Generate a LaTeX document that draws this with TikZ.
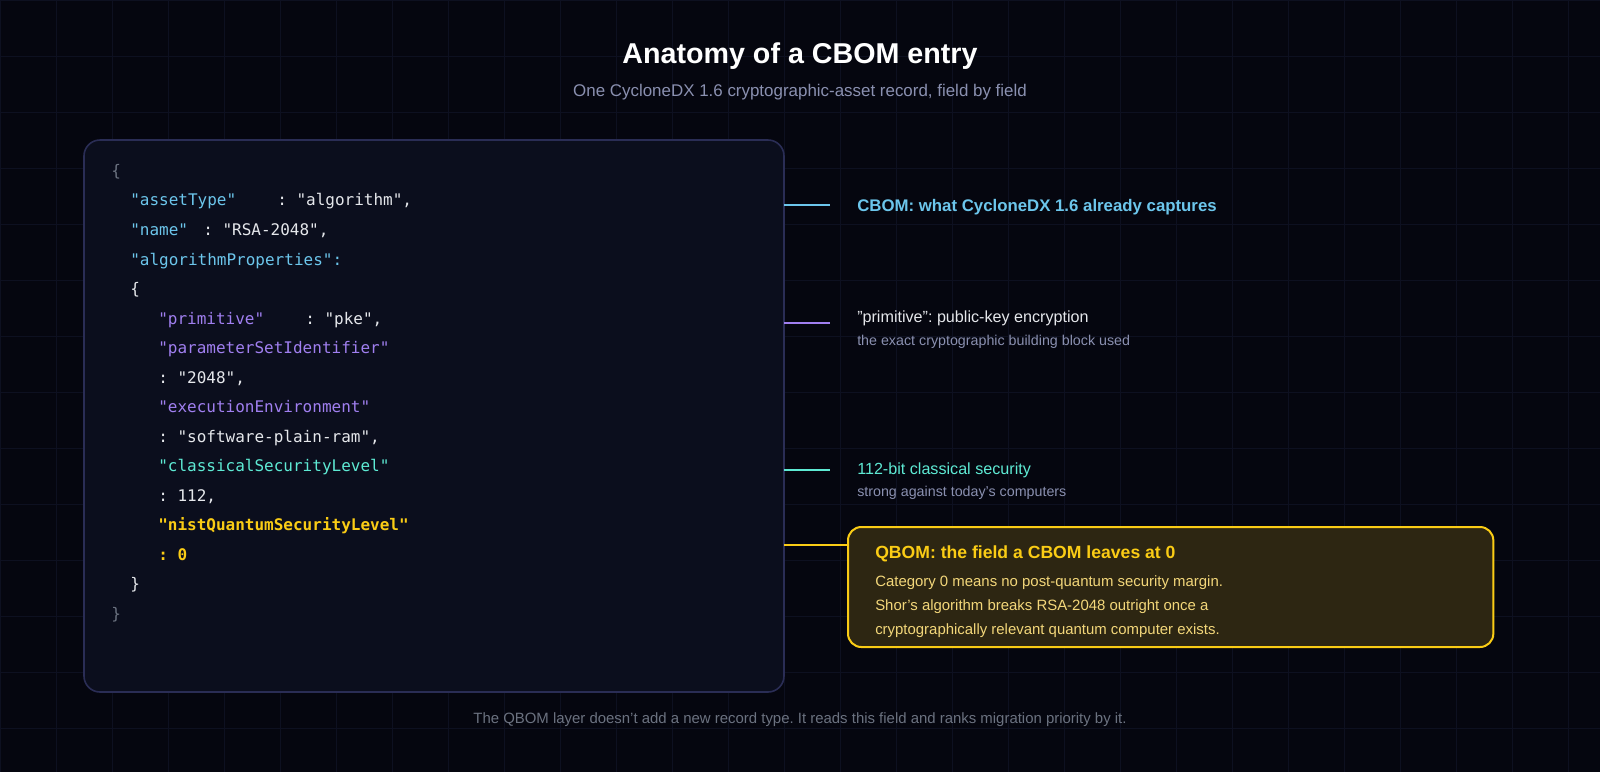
\documentclass[tikz,border=0pt]{standalone}
\usepackage{fontspec}
\setmainfont{Liberation Sans}
\newfontfamily\codefont{DejaVu Sans Mono}
\begin{document}
\frenchspacing
\begin{tikzpicture}[x=0.75pt,y=-0.75pt,
  code/.style={anchor=base west,inner sep=0,font=\codefont\fontsize{12}{14}\selectfont},
  lbl/.style={anchor=base west,inner sep=0},
  conn/.style={line width=1.4pt}]
\definecolor{bg}{HTML}{05060F}
\definecolor{gridc}{HTML}{0D1020}
\definecolor{boxbg}{HTML}{0B0E1D}
\definecolor{boxbd}{HTML}{2A2D55}
\definecolor{kcyan}{HTML}{6CC6EC}
\definecolor{kpur}{HTML}{A07FF0}
\definecolor{kgreen}{HTML}{5EEAD4}
\definecolor{kyel}{HTML}{FACC15}
\definecolor{val}{HTML}{E5E7EB}
\definecolor{brc}{HTML}{6B7280}
\definecolor{sub}{HTML}{8A90B0}
\definecolor{qbg}{HTML}{2D2612}
\definecolor{qtxt}{HTML}{F3D77A}
\def\q{\symbol{34}}
\def\ap{\symbol{39}}
\useasboundingbox (0,0) rectangle (1600,772);
\fill[bg] (0,0) rectangle (1600,772);
\foreach \x in {0,56,...,1600} \draw[gridc,line width=0.6pt] (\x,0) -- (\x,772);
\foreach \y in {0,56,...,772} \draw[gridc,line width=0.6pt] (0,\y) -- (1600,\y);
\node[font=\bfseries\fontsize{21.5}{26}\selectfont,text=white] (title) at (800,56) {Anatomy of a CBOM entry};
\node[font=\fontsize{12.7}{15}\selectfont,text=sub] (subtitle) at (800,92) {One CycloneDX 1.6 cryptographic-asset record, field by field};
\draw[boxbd,fill=boxbg,line width=1.2pt,rounded corners=12pt] (84,140) rectangle (784,692);
\node[code,text=brc] (l1) at (111,176) {\{};
\node[code,text=kcyan] (l2) at (130,205) {"assetType"};
\node[code,text=val] (v2) at (277,205) {: "algorithm",};
\node[code,text=kcyan] (l3) at (130,235) {"name"};
\node[code,text=val] (v3) at (203,235) {: "RSA-2048",};
\node[code,text=kcyan] (l4) at (130,265) {"algorithmProperties":};
\node[code,text=val] (l5) at (130,294) {\{};
\node[code,text=kpur] (l6) at (158,324) {"primitive"};
\node[code,text=val] (v6) at (305,324) {: "pke",};
\node[code,text=kpur] (l7) at (158,353) {"parameterSetIdentifier"};
\node[code,text=val] (l8) at (158,383) {: "2048",};
\node[code,text=kpur] (l9) at (158,412) {"executionEnvironment"};
\node[code,text=val] (l10) at (158,442) {: "software-plain-ram",};
\node[code,text=kgreen] (l11) at (158,471) {"classicalSecurityLevel"};
\node[code,text=val] (l12) at (158,501) {: 112,};
\node[code,text=kyel,font=\codefont\bfseries\fontsize{12}{14}\selectfont] (l13) at (158,530) {"nistQuantumSecurityLevel"};
\node[code,text=kyel,font=\codefont\bfseries\fontsize{12}{14}\selectfont] (l14) at (158,560) {: 0};
\node[code,text=val] (l15) at (130,589) {\}};
\node[code,text=brc] (l16) at (111,619) {\}};
% connectors
\coordinate (c1) at (784,205); \coordinate (d1) at (830,205);
\coordinate (c2) at (784,323); \coordinate (d2) at (830,323);
\coordinate (c3) at (784,470); \coordinate (d3) at (830,470);
\coordinate (c4) at (784,545);
\draw[conn,kcyan] (c1) -- (d1);
\draw[conn,kpur] (c2) -- (d2);
\draw[conn,kgreen] (c3) -- (d3);
\node[lbl,text=kcyan,font=\bfseries\fontsize{12.6}{15}\selectfont] (t1) at (857,211) {CBOM: what CycloneDX 1.6 already captures};
\node[lbl,text=val,font=\fontsize{12.1}{15}\selectfont] (t2) at (857,322) {\q primitive\q: public-key encryption};
\node[lbl,text=sub,font=\fontsize{10.7}{13}\selectfont] (t2b) at (857,345) {the exact cryptographic building block used};
\node[lbl,text=kgreen,font=\fontsize{12.1}{15}\selectfont] (t3) at (857,474) {112-bit classical security};
\node[lbl,text=sub,font=\fontsize{10.7}{13}\selectfont] (t3b) at (857,496) {strong against today\ap s computers};
\node[draw=kyel,fill=qbg,line width=1.5pt,rounded corners=10pt,minimum width=484pt,minimum height=90pt,anchor=north west] (qbox) at (847,526) {};
\draw[kyel,line width=2.2pt] (c4) -- (qbox.west |- c4);
\node[lbl,text=kyel,font=\bfseries\fontsize{13.2}{15}\selectfont] (q1) at (875,558) {QBOM: the field a CBOM leaves at 0};
\node[lbl,text=qtxt,font=\fontsize{11.2}{13}\selectfont] (q2) at (875,586) {Category 0 means no post-quantum security margin.};
\node[lbl,text=qtxt,font=\fontsize{11.2}{13}\selectfont] (q3) at (875,610) {Shor\ap s algorithm breaks RSA-2048 outright once a};
\node[lbl,text=qtxt,font=\fontsize{11.2}{13}\selectfont] (q4) at (875,634) {cryptographically relevant quantum computer exists.};
\node[text=brc,font=\fontsize{11.2}{13}\selectfont] (foot) at (800,720) {The QBOM layer doesn\ap t add a new record type. It reads this field and ranks migration priority by it.};
\end{tikzpicture}
\end{document}
